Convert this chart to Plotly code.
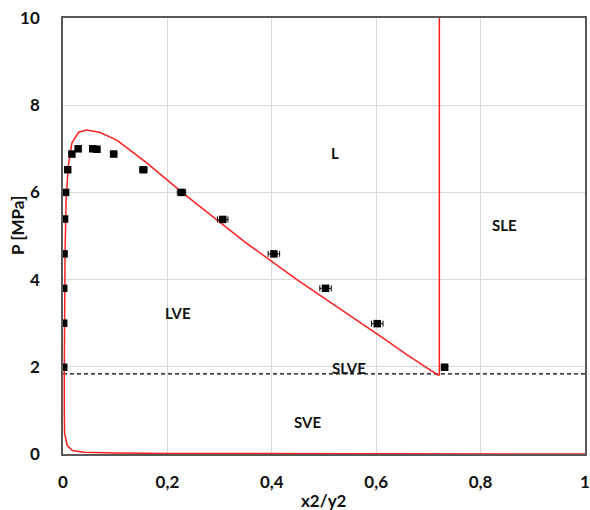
import plotly.graph_objects as go

# Experimental data (x2/y2, P [MPa])
exp_x = [0.0013, 0.0013, 0.0013, 0.002, 0.003, 0.005, 0.009, 0.017, 0.029,
         0.057, 0.065, 0.097, 0.154, 0.227, 0.306, 0.404, 0.503, 0.602, 0.731]
exp_p = [1.99, 3.0, 3.8, 4.59, 5.39, 6.0, 6.52, 6.88, 7.0,
         7.0, 6.99, 6.88, 6.52, 6.0, 5.38, 4.59, 3.8, 2.99, 1.99]
exp_err = [0.001, 0.001, 0.001, 0.001, 0.001, 0.001, 0.002, 0.003, 0.004,
           0.005, 0.005, 0.006, 0.007, 0.008, 0.01, 0.011, 0.011, 0.011, 0.006]

# Model curve (phase envelope)
model_x = [0.72, 0.66, 0.612, 0.55, 0.448, 0.35, 0.282, 0.228, 0.161, 0.103,
           0.07, 0.045, 0.03, 0.017, 0.010, 0.006, 0.004, 0.003, 0.0025,
           0.0025, 0.003, 0.008, 0.018, 0.04, 0.1, 0.2, 0.4, 0.7, 1.0]
model_p = [1.80, 2.27, 2.67, 3.17, 4.0, 4.85, 5.48, 6.0, 6.67, 7.2,
           7.38, 7.43, 7.38, 7.13, 6.59, 5.83, 4.68, 3.53, 2.0,
           1.0, 0.47, 0.20, 0.08, 0.04, 0.022, 0.012, 0.006, 0.003, 0.0]

# SLE vertical line
sle_x = [0.721, 0.721]
sle_p = [1.80, 10.0]

# Three-phase (SLVE) pressure
slve_x = [0.0, 1.0]
slve_p = [1.84, 1.84]

# Region labels
region_text = ["L", "SLE", "LVE", "SLVE", "SVE"]
region_x = [0.522, 0.845, 0.22, 0.547, 0.468]
region_p = [6.9, 5.25, 3.23, 1.97, 0.73]

# Axis tick labels
x_ticks = [0, 0.2, 0.4, 0.6, 0.8, 1]
x_ticktext = ["0", "0,2", "0,4", "0,6", "0,8", "1"]
y_ticks = [0, 2, 4, 6, 8, 10]

font_family = "Lato, 'Open Sans', sans-serif"
text_col = "#111111"

fig = go.Figure()
fig.add_trace(go.Scatter(x=slve_x, y=slve_p, mode="lines",
                         line=dict(color="black", width=1.2, dash="4px,3px"),
                         showlegend=False, hoverinfo="skip"))
fig.add_trace(go.Scatter(x=model_x, y=model_p, mode="lines",
                         line=dict(color="#ff2020", width=1.5),
                         showlegend=False))
fig.add_trace(go.Scatter(x=sle_x, y=sle_p, mode="lines",
                         line=dict(color="#ff2020", width=1.5),
                         showlegend=False))
fig.add_trace(go.Scatter(x=exp_x, y=exp_p, mode="markers",
                         marker=dict(symbol="square", size=7.5, color="black"),
                         error_x=dict(type="data", array=exp_err, color="black",
                                      thickness=1, width=3),
                         showlegend=False))

for t, x, y in zip(region_text, region_x, region_p):
    fig.add_annotation(x=x, y=y, text="<b>" + t + "</b>", showarrow=False,
                       font=dict(family=font_family, size=15, color=text_col))

# Axis titles as annotations for exact placement
fig.add_annotation(x=0.5, y=0, xref="paper", yref="paper", text="<b>x2/y2</b>",
                   showarrow=False, xanchor="center", yanchor="middle", yshift=-46,
                   font=dict(family=font_family, size=17, color=text_col))
fig.add_annotation(x=0, y=0.523, xref="paper", yref="paper", text="<b>P [MPa]</b>",
                   showarrow=False, xanchor="center", yanchor="middle", xshift=-45,
                   textangle=-90,
                   font=dict(family=font_family, size=17, color=text_col))

fig.update_layout(
    width=590, height=510,
    margin=dict(l=63, r=5, t=18, b=56),
    paper_bgcolor="white", plot_bgcolor="white",
    font=dict(family=font_family, color=text_col),
)
fig.update_xaxes(range=[0, 1], tickvals=x_ticks, ticktext=x_ticktext,
                 showgrid=True, gridcolor="#d9d9d9", gridwidth=1,
                 showline=True, linecolor="#595959", linewidth=1.5, mirror=True,
                 zeroline=False, ticks="", ticklabelstandoff=12, automargin=False,
                 tickfont=dict(size=17, weight="bold", color=text_col))
fig.update_yaxes(range=[0, 10], tickvals=y_ticks,
                 showgrid=True, gridcolor="#d9d9d9", gridwidth=1,
                 showline=True, linecolor="#595959", linewidth=1.5, mirror=True,
                 zeroline=False, ticks="", ticklabelstandoff=18, automargin=False,
                 tickfont=dict(size=17, weight="bold", color=text_col))

fig.write_html("out.html",
               config={"displayModeBar": False},
               post_script="document.body.style.margin='0';document.body.style.overflow='hidden';")
